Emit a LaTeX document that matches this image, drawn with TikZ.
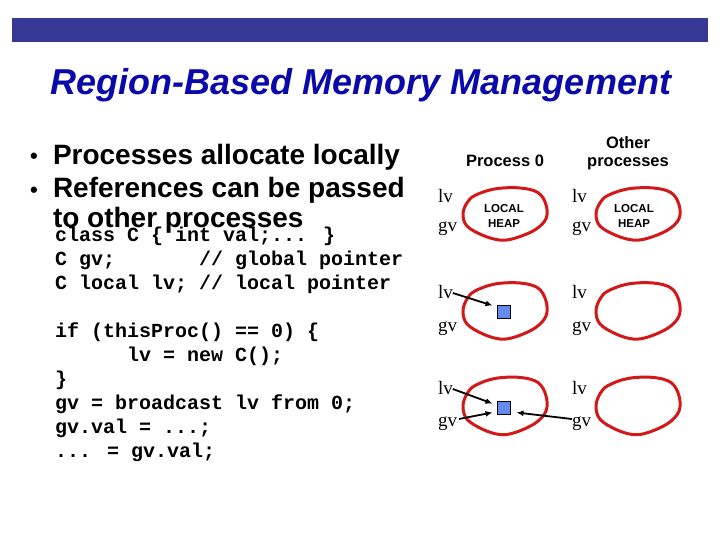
\documentclass[tikz,border=0pt]{standalone}
\usepackage{fontspec}
\setmainfont{Liberation Sans}
\newfontfamily\sansf{Liberation Sans}
\newfontfamily\seriff{Liberation Serif}
\newfontfamily\monof{Liberation Mono}
\usetikzlibrary{calc,arrows.meta}
\definecolor{barblue}{RGB}{55,55,150}
\definecolor{titleblue}{RGB}{10,10,170}
\definecolor{heapred}{RGB}{210,25,25}
\definecolor{boxblue}{RGB}{100,140,240}
\begin{document}
\begin{tikzpicture}[x=1pt,y=-1pt,
  every node/.style={inner sep=0pt,outer sep=0pt},
  bullet/.style={anchor=base west,font=\sansf\bfseries\fontsize{28}{30}\selectfont},
  code/.style={anchor=base west,font=\monof\bfseries\fontsize{20}{22}\selectfont},
  var/.style={anchor=base west,font=\seriff\fontsize{19}{21}\selectfont},
  head/.style={font=\sansf\bfseries\fontsize{16.5}{18}\selectfont,align=center},
  heaplbl/.style={font=\sansf\bfseries\fontsize{11.5}{15}\selectfont,align=center},
  heap/.style={draw=heapred,line width=3pt},
  obj/.style={draw=black,fill=boxblue,line width=1.5pt,minimum size=13pt},
  ptr/.style={line width=1.8pt,-{Latex[length=7pt,width=6pt]}}
]
\useasboundingbox (0,0) rectangle (720,540);
\fill[white] (0,0) rectangle (720,540);
% top bar
\fill[barblue] (12,18) rectangle (708,42);
% title
\node[anchor=base,font=\sansf\bfseries\itshape\fontsize{36}{40}\selectfont,text=titleblue] (title) at (361,95) {Region-Based Memory Management};
% bullets
\node[bullet,font=\sansf\bfseries\fontsize{22}{24}\selectfont] (b1) at (30,164) {•};
\node[bullet] (t1) at (53,165) {Processes allocate locally};
\node[bullet,font=\sansf\bfseries\fontsize{22}{24}\selectfont] (b2) at (30,197) {•};
\node[bullet] (t2) at (53,198) {References can be passed};
\node[bullet] (t3) at (53,227) {to other processes};
% code
\node[code] (c1) at (55,241) {class C \{ int val;... \}};
\node[code] (c2) at (55,265) {C gv;~~~~~~~// global pointer};
\node[code] (c3) at (55,289) {C local lv; // local pointer};
\node[code] (c4) at (55,337) {if (thisProc() == 0) \{};
\node[code] (c5) at (55,361) {~~~~~~lv = new C();};
\node[code] (c6) at (55,385) {\}};
\node[code] (c7) at (55,409) {gv = broadcast lv from 0;};
\node[code] (c8) at (55,433) {gv.val = ...;};
\node[code] (c9) at (55,457) {... = gv.val;};
% column heads
\node[head,anchor=base] (p0) at (505,167) {Process 0};
\node[head,anchor=base] (op) at (628,167) {Other\\processes};
% heaps
\foreach \cx/\cy/\ys/\nm in {505/214/0.93/hA, 638/214/0.93/hB, 505/311/1.0/hC, 638/311/1.0/hD, 505/406/1.02/hE, 638/406/1.02/hF}{
  \coordinate (\nm) at (\cx,\cy);
  \draw[heap,shift={(\cx,\cy)},yscale=\ys] plot[smooth cycle,tension=0.6] coordinates
   {(-30,-20) (-10,-27) (15,-28) (33,-23) (41,-10) (41,5) (30,17) (10,26) (-5,28) (-22,23) (-38,13) (-42,0) (-38,-12)};
}
\node[heaplbl] (lh1) at (504,216) {LOCAL\\HEAP};
\node[heaplbl] (lh2) at (634,216) {LOCAL\\HEAP};
% variables
\node[var] (lvA) at (438,203) {lv};
\node[var] (gvA) at (438,232) {gv};
\node[var] (lvB) at (572,203) {lv};
\node[var] (gvB) at (572,232) {gv};
\node[var] (lvC) at (438,298) {lv};
\node[var] (gvC) at (438,331) {gv};
\node[var] (lvD) at (572,298) {lv};
\node[var] (gvD) at (572,331) {gv};
\node[var] (lvE) at (438,394) {lv};
\node[var] (gvE) at (438,426) {gv};
\node[var] (lvF) at (572,394) {lv};
\node[var] (gvF) at (572,426) {gv};
% objects
\node[obj] (sqC) at (504,312) {};
\node[obj] (sqE) at (504,408) {};
% pointers
\draw[ptr] ($(lvC.base east)+(0,-5)$) -- ($(sqC.north west)+(-5,0)$);
\draw[ptr] ($(lvE.base east)+(0,-5)$) -- ($(sqE.north west)+(-5,2)$);
\draw[ptr] ($(gvE.base east)+(2,-7)$) -- ($(sqE.south west)+(-5,-2)$);
\draw[ptr] ($(gvF.base west)+(0,-7)$) -- ($(sqE.south east)+(6,-2)$);
\end{tikzpicture}
\end{document}
